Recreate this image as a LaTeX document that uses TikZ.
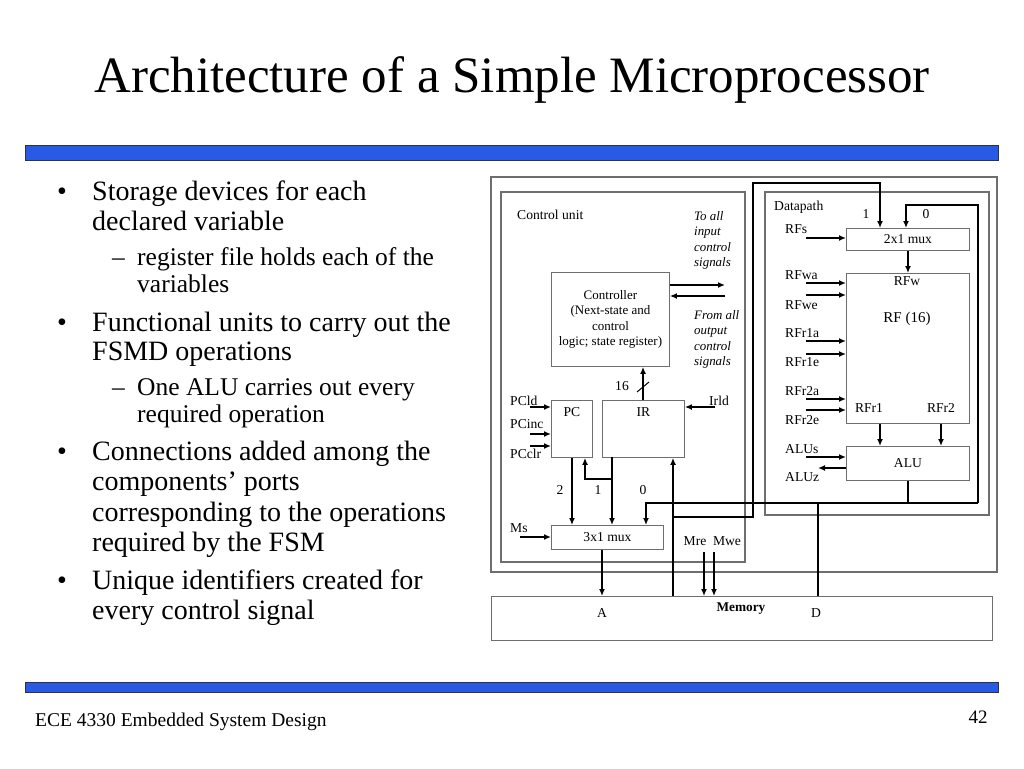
\documentclass[tikz,border=0pt]{standalone}
\usepackage{fontspec}
\setmainfont{Liberation Serif}
\usetikzlibrary{positioning, calc, arrows.meta}
\definecolor{barblue}{RGB}{40,90,230}
\definecolor{boxgray}{RGB}{110,110,110}
\tikzset{
  blk/.style={draw=boxgray, line width=0.9pt, anchor=north west, inner sep=0pt, align=center},
  frame/.style={draw=boxgray, line width=1.2pt},
  wire/.style={line width=1.8pt},
  sig/.style={line width=1.8pt, -{Latex[length=7pt,width=6pt]}},
  lbl/.style={font=\fontsize{13.6}{15}\selectfont, inner sep=0pt},
  note/.style={font=\fontsize{12.9}{15.5}\selectfont\itshape, inner sep=0pt, anchor=north west, align=left},
  bullet/.style={font=\fontsize{28}{30}\selectfont, inner sep=0pt, anchor=base west},
  subbullet/.style={font=\fontsize{25.5}{27}\selectfont, inner sep=0pt, anchor=base west}
}
\begin{document}
\begin{tikzpicture}[x=1pt, y=-1pt]
    \useasboundingbox (0,0) rectangle (1024,768);
    % Title and bars
    \node[font=\fontsize{51}{56}\selectfont, inner sep=0pt] (title) at (512,80) {Architecture of a Simple Microprocessor};
    \fill[barblue, draw=black!80, line width=0.8pt] (25,145) rectangle (998,160);
    \fill[barblue, draw=black!80, line width=0.8pt] (25,682) rectangle (998,692);
    \node[font=\fontsize{19.5}{22}\selectfont, inner sep=0pt, anchor=west] (foot) at (35,722) {ECE 4330 Embedded System Design};
    \node[font=\fontsize{19}{22}\selectfont, inner sep=0pt] (page) at (978,717) {42};

    % Bullets
    \foreach \y in {200, 331, 460, 589}
        \node[bullet] at (57,\y) {\textbullet};
    \foreach \y/\t in {200/Storage devices for each, 230/declared variable, 331/Functional units to carry out the, 360/FSMD operations, 460/Connections added among the, 490/components’ ports, 521/corresponding to the operations, 551/required by the FSM, 589/Unique identifiers created for, 619/every control signal}
        \node[bullet] at (92,\y) {\t};
    \foreach \y in {265,395}
        \node[subbullet] at (112,\y) {--};
    \foreach \y/\t in {265/register file holds each of the, 292/variables, 395/One ALU carries out every, 422/required operation}
        \node[subbullet] at (137,\y) {\t};

    % Frames
    \draw[frame] (491,177) rectangle (997,572);
    \draw[frame] (501,192) rectangle (745,562);
    \draw[frame] (765,192) rectangle (989,515);
    \node[blk, minimum width=501pt, minimum height=44pt] (mem) at (491,596) {};

    % Blocks
    \node[blk, minimum width=118pt, minimum height=94pt, font=\fontsize{13}{15.5}\selectfont] (ctrl) at (551,272) {Controller\\(Next-state and\\control\\logic; state register)};
    \node[blk, minimum width=41pt, minimum height=57pt] (pc) at (551,400) {};
    \node[blk, minimum width=82pt, minimum height=57pt] (ir) at (602,400) {};
    \node[blk, minimum width=112pt, minimum height=24pt] (mux3) at (551,525) {};
    \node[blk, minimum width=123pt, minimum height=22pt] (mux2) at (846,228) {};
    \node[blk, minimum width=123pt, minimum height=150pt] (rf) at (846,273) {};
    \node[blk, minimum width=123pt, minimum height=34pt] (alu) at (846,446) {};

    % Labels
    \node[lbl] at (pc.north |- 0,412) {PC};
    \node[lbl] at (ir.north |- 0,412) {IR};
    \node[lbl] at (mux3.center) {3x1 mux};
    \node[lbl] at (mux2.center) {2x1 mux};
    \node[lbl] at (907,281) {RFw};
    \node[font=\fontsize{15}{17}\selectfont, inner sep=0pt] at (907,319) {RF (16)};
    \node[lbl] at (869,408) {RFr1};
    \node[lbl] at (941,408) {RFr2};
    \node[lbl] at (alu.center) {ALU};
    \node[lbl, anchor=west] at (517,215) {Control unit};
    \node[lbl, anchor=west] at (774,207) {Datapath};
    \node[lbl] at (866,214) {1};
    \node[lbl] at (926,214) {0};
    \node[lbl] at (560,490) {2};
    \node[lbl] at (598,490) {1};
    \node[lbl] at (643,490) {0};
    \node[lbl] at (602,613) {A};
    \node[lbl, font=\fontsize{13.3}{15}\selectfont\bfseries] at (741,609) {Memory};
    \node[lbl] at (816,613) {D};
    \node[lbl] at (695,541) {Mre};
    \node[lbl] at (727,541) {Mwe};
    \node[note] at (694,211) {To all\\input\\control\\signals};
    \node[note] at (694,310) {From all\\output\\control\\signals};

    % Control signal inputs
    \foreach \ya/\yl/\t in {238/229/RFs, 283/275/RFwa, 295/305/RFwe, 341/333/RFr1a, 354/362/RFr1e, 399/391/RFr2a, 410/420/RFr2e, 457/449/ALUs}{
        \node[lbl, anchor=west] at (785,\yl) {\t};
        \draw[sig] (806,\ya) -- (846,\ya);
    }
    \node[lbl, anchor=west] at (785,477) {ALUz};
    \draw[sig] (alu.west |- 0,468) -- (818,468);
    \foreach \ya/\yl/\t in {407/401/PCld, 434/424/PCinc, 446/454/PCclr}{
        \node[lbl, anchor=west] at (510,\yl) {\t};
        \draw[sig] (530,\ya) -- (pc.west |- 0,\ya);
    }
    \node[lbl, anchor=west] at (510,528) {Ms};
    \draw[sig] (520,537) -- (mux3.west |- 0,537);
    \node[lbl, anchor=west] at (709,401) {Irld};
    \draw[sig] (715,407) -- (ir.east |- 0,407);
    \draw[sig] (ctrl.east |- 0,285) -- (725,285);
    \draw[sig] (725,296) -- (ctrl.east |- 0,296);

    % Datapath wiring
    \draw[sig] (ir.north -| 643,0) -- (ctrl.south -| 643,0);
    \draw[line width=1pt] (637,392) -- (649,382);
    \node[lbl] at (622,386) {16};
    \draw[sig] (pc.south) -- (mux3.north -| pc.south);
    \draw[sig] (612,457) -- (mux3.north -| 612,0);
    \draw[sig] (612,479) -- (585,479) -- (pc.south -| 585,0);
    \draw[sig] (mux3.south -| 602,0) -- (mem.north -| 602,0);
    \draw[sig] (704,552) -- (mem.north -| 704,0);
    \draw[sig] (714,552) -- (mem.north -| 714,0);
    \draw[sig] (mem.north -| 673,0) -- (ir.south -| 673,0);
    \draw[sig] (673,517) -- (753,517) -- (753,183) -- (880,183) -- (mux2.north -| 880,0);
    \draw[sig] (rf.south -| 880,0) -- (alu.north -| 880,0);
    \draw[sig] (rf.south -| 941,0) -- (alu.north -| 941,0);
    \draw[sig] (rf.north |- mux2.south) -- (rf.north);
    \draw[wire] (alu.south -| 908,0) -- (908,503);
    \draw[sig] (978,503) -- (978,205) -- (906,205) -- (mux2.north -| 906,0);
    \draw[sig] (978,503) -- (646,503) -- (mux3.north -| 646,0);
    \draw[wire] (818,503) -- (mem.north -| 818,0);
\end{tikzpicture}
\end{document}
